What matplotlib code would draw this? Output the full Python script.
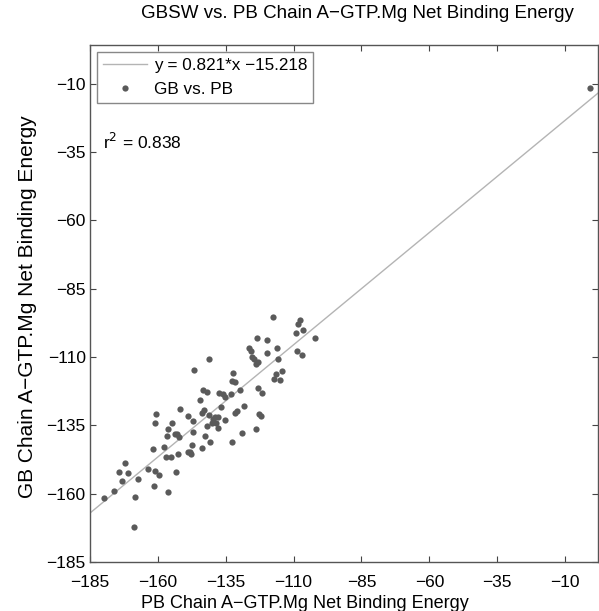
import numpy as np
import matplotlib
matplotlib.use('Agg')
from matplotlib import pyplot as plt

plt.rcParams['font.family'] = ['Liberation Sans', 'DejaVu Sans']

# PB vs GB net binding energies
pb_energy = [-179.9, -176.1, -174.2, -173.0, -172.1, -170.8, -168.5, -168.7, -167.2, -163.6,
             -161.9, -161.2, -161.0, -159.5, -161.1, -160.8, -157.7, -157.1, -156.4, -156.6,
             -156.3, -154.9, -155.3, -153.3, -153.7, -152.9, -152.3, -152.4, -151.7, -148.9,
             -149.0, -148.2, -147.6, -147.4, -147.2, -147.0, -146.8, -144.3, -143.8, -143.7,
             -143.5, -142.6, -142.8, -142.0, -141.7, -141.2, -141.1, -140.8, -140.1, -139.7,
             -139.0, -138.6, -137.9, -137.9, -137.5, -136.7, -136.0, -135.4, -135.3, -132.9,
             -132.7, -132.3, -132.5, -131.6, -131.6, -130.8, -129.9, -129.0, -128.1, -126.3,
             -125.8, -125.2, -124.7, -124.0, -123.7, -123.5, -123.1, -123.1, -122.8, -121.9,
             -121.8, -119.7, -119.7, -117.6, -117.2, -116.6, -116.1, -115.9, -107.5, -108.2,
             -106.6, -109.0, -102.0, -114.3, -114.9, -108.6, -106.9, -0.8]
gb_energy = [-161.4, -158.9, -152.2, -155.4, -148.8, -152.4, -161.1, -172.1, -154.7, -151.1,
             -143.7, -157.0, -151.6, -153.1, -134.1, -130.8, -142.9, -146.6, -159.3, -138.9,
             -136.4, -134.3, -146.6, -152.0, -138.0, -138.2, -139.2, -145.5, -129.1, -131.5,
             -144.9, -144.6, -145.3, -142.3, -137.6, -133.4, -114.9, -125.8, -130.5, -143.1,
             -121.9, -138.9, -129.5, -122.8, -135.2, -131.3, -110.8, -140.9, -134.3, -132.5,
             -132.1, -134.1, -135.9, -131.9, -123.1, -128.3, -123.6, -124.6, -132.9, -123.7,
             -140.9, -115.7, -118.8, -119.1, -130.5, -129.7, -122.2, -137.9, -128.0, -106.7,
             -107.8, -110.0, -110.9, -136.4, -112.4, -102.9, -111.7, -121.2, -131.0, -131.7,
             -123.0, -103.9, -108.5, -95.4, -118.2, -116.1, -106.8, -110.7, -96.3, -98.0,
             -100.0, -101.1, -103.2, -115.2, -118.5, -107.9, -109.3, -11.5]

slope = 0.821
intercept = -15.218
r_squared = 0.838

ticks = [-185, -160, -135, -110, -85, -60, -35, -10]
xlim = (-185, 2)
ylim = (-185, 4)

fig = plt.figure(figsize=(5.99, 6.11), dpi=100)
ax = fig.add_axes([0.150, 0.080, 0.848, 0.846])

fit_x = np.array(xlim)
ax.plot(fit_x, slope * fit_x + intercept, color='#b4b4b4', lw=1.0,
        label='y = %.3f*x %s%.3f' % (slope, '\u2212', abs(intercept)))
ax.plot(pb_energy, gb_energy, 'o', color='#5a5a5a', ms=4.5, mew=0,
        label='GB vs. PB')

ax.set_xlim(xlim)
ax.set_ylim(ylim)
ax.set_xticks(ticks)
ax.set_yticks(ticks)
ax.set_xticklabels([str(t).replace('-', '\u2212') for t in ticks])
ax.set_yticklabels([str(t).replace('-', '\u2212') for t in ticks])
ax.tick_params(direction='in', top=True, right=True, length=4, width=0.8,
               labelsize=12.5, color='#444444', pad=3)
ax.tick_params(axis='x', pad=9)
for s in ax.spines.values():
    s.set_color('#555555')
    s.set_linewidth(1.0)

ax.set_xlabel('PB Chain A\u2212GTP.Mg Net Binding Energy', fontsize=13, va='top')
ax.xaxis.set_label_coords(0.423, -0.063)
ax.set_ylabel('GB Chain A\u2212GTP.Mg Net Binding Energy', fontsize=15, va='center')
ax.yaxis.set_label_coords(-0.122, 0.495)
ax.set_title('GBSW vs. PB Chain A\u2212GTP.Mg Net Binding Energy', fontsize=13.5,
             x=0.526, y=1.045, va='center')

leg = ax.legend(loc='upper left', fontsize=12.3, fancybox=False, framealpha=1,
                edgecolor='#888888', borderpad=0.35, handlelength=2.6,
                handletextpad=0.4, labelspacing=0.55, borderaxespad=0.4)
leg.get_frame().set_linewidth(1.0)

ax.text(0.025, 0.812, 'r$^2$ = %.3f' % r_squared, transform=ax.transAxes,
        fontsize=12.5, va='center', ha='left')

fig.savefig('out.png', dpi=100)
